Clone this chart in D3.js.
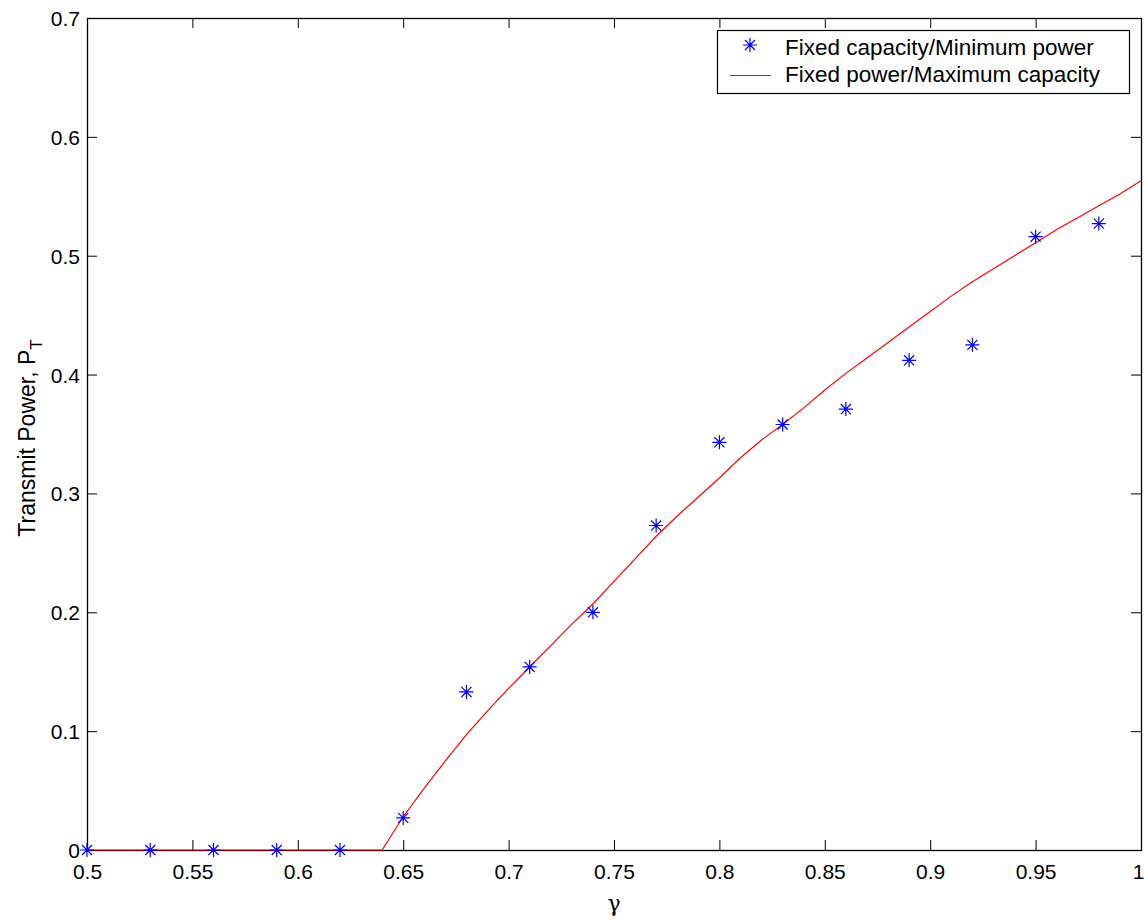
<!DOCTYPE html>
<html>
<head>
<meta charset="utf-8">
<script src="https://cdn.jsdelivr.net/npm/d3@7"></script>
<style>
  html, body { margin: 0; padding: 0; background: #fff; }
  svg { display: block; font-family: "Liberation Sans", Arial, Helvetica, sans-serif; }
</style>
</head>
<body>
<svg id="chart" width="1144" height="920"></svg>
<script>
// Minimum-power solution for a fixed capacity target (asterisks)
const gammaPoints = [0.50, 0.53, 0.56, 0.59, 0.62, 0.65, 0.68, 0.71, 0.74, 0.77, 0.80, 0.83, 0.86, 0.89, 0.92, 0.95, 0.98];
const minPower    = [0, 0, 0, 0, 0, 0.027, 0.133, 0.154, 0.200, 0.273, 0.343, 0.358, 0.371, 0.412, 0.425, 0.516, 0.527];

// Maximum-capacity solution for a fixed power budget (red curve)
const gammaCurve = [0.50, 0.64, 0.65, 0.66, 0.67, 0.68, 0.69, 0.70, 0.71, 0.72, 0.73, 0.74, 0.75, 0.76, 0.77, 0.78, 0.79, 0.80, 0.81, 0.82, 0.83, 0.84, 0.85, 0.86, 0.87, 0.88, 0.89, 0.90, 0.91, 0.92, 0.93, 0.94, 0.95, 0.96, 0.97, 0.98, 0.99, 1.00];
const fixedPower = [0, 0, 0.028, 0.052, 0.075, 0.097, 0.117, 0.136, 0.154, 0.172, 0.190, 0.207, 0.226, 0.245, 0.264, 0.281, 0.297, 0.313, 0.330, 0.345, 0.358, 0.372, 0.387, 0.401, 0.414, 0.427, 0.440, 0.453, 0.466, 0.478, 0.489, 0.500, 0.511, 0.522, 0.532, 0.542, 0.552, 0.563];

const xTicks = [0.5, 0.55, 0.6, 0.65, 0.7, 0.75, 0.8, 0.85, 0.9, 0.95, 1];
const xTickLabels = ["0.5", "0.55", "0.6", "0.65", "0.7", "0.75", "0.8", "0.85", "0.9", "0.95", "1"];
const yTicks = [0, 0.1, 0.2, 0.3, 0.4, 0.5, 0.6, 0.7];
const yTickLabels = ["0", "0.1", "0.2", "0.3", "0.4", "0.5", "0.6", "0.7"];

const legendLabels = ["Fixed capacity/Minimum power", "Fixed power/Maximum capacity"];

const margin = { left: 87, top: 18, right: 1141, bottom: 850 };
const svg = d3.select("#chart");

const x = d3.scaleLinear().domain([0.5, 1]).range([margin.left, margin.right]);
const y = d3.scaleLinear().domain([0, 0.7]).range([margin.bottom, margin.top]);

const tickFont = 21;
const tickLen = 10;

// Axes with inward ticks on all four sides
const bottomAxis = d3.axisBottom(x).tickValues(xTicks).tickSize(-tickLen).tickPadding(14)
  .tickFormat((d, i) => xTickLabels[i]);
const topAxis = d3.axisTop(x).tickValues(xTicks).tickSize(-tickLen).tickFormat("");
const leftAxis = d3.axisLeft(y).tickValues(yTicks).tickSize(-tickLen).tickPadding(7)
  .tickFormat((d, i) => yTickLabels[i]);
const rightAxis = d3.axisRight(y).tickValues(yTicks).tickSize(-tickLen).tickFormat("");

function styleAxis(g) {
  g.select(".domain").remove();
  g.selectAll(".tick line").attr("stroke", "#000").attr("stroke-width", 1);
  g.selectAll(".tick text").attr("fill", "#000").style("font-size", tickFont + "px")
    .style("font-family", "'Liberation Sans', Arial, sans-serif");
}

const gx = svg.append("g").attr("transform", `translate(0,${margin.bottom})`).call(bottomAxis).call(styleAxis);
// the last label sits at the right edge of the page
gx.selectAll(".tick text").filter(d => d === 1).attr("text-anchor", "end").attr("dx", 3);
svg.append("g").attr("transform", `translate(0,${margin.top})`).call(topAxis).call(styleAxis);
svg.append("g").attr("transform", `translate(${margin.left},0)`).call(leftAxis).call(styleAxis)
  .selectAll(".tick text").attr("dy", "0.36em");
svg.append("g").attr("transform", `translate(${margin.right},0)`).call(rightAxis).call(styleAxis);

// Axes box
svg.append("rect")
  .attr("x", margin.left + 0.5).attr("y", margin.top + 0.5)
  .attr("width", margin.right - margin.left).attr("height", margin.bottom - margin.top)
  .attr("fill", "none").attr("stroke", "#000").attr("stroke-width", 1.3);

// Red curve
const line = d3.line().x((d, i) => x(gammaCurve[i])).y(d => y(d));
svg.append("path")
  .datum(fixedPower)
  .attr("d", line)
  .attr("fill", "none")
  .attr("stroke", "#ff0000")
  .attr("stroke-width", 1.2);

// Asterisk marker: plus and cross overlaid
function asterisk(g, cx, cy, r) {
  const d = r * 0.72;
  const p = d3.path();
  p.moveTo(cx - r, cy); p.lineTo(cx + r, cy);
  p.moveTo(cx, cy - r); p.lineTo(cx, cy + r);
  p.moveTo(cx - d, cy - d); p.lineTo(cx + d, cy + d);
  p.moveTo(cx - d, cy + d); p.lineTo(cx + d, cy - d);
  g.append("path").attr("d", p.toString())
    .attr("stroke", "#0000ff").attr("stroke-width", 1.2).attr("fill", "none");
}

const pts = svg.append("g");
minPower.forEach((v, i) => asterisk(pts, x(gammaPoints[i]), y(v), 7));

// Axis titles
svg.append("text")
  .attr("x", 614).attr("y", 911)
  .attr("text-anchor", "middle")
  .style("font-size", "22px")
  .style("font-family", "'DejaVu Serif', 'Liberation Serif', serif")
  .text("γ");

const yTitle = svg.append("text")
  .attr("transform", `translate(35,438) rotate(-90)`)
  .attr("text-anchor", "middle")
  .style("font-size", "23px");
yTitle.append("tspan").text("Transmit Power, P");
yTitle.append("tspan").attr("dy", 7).style("font-size", "17px").text("T");

// Legend
const legend = svg.append("g");
legend.append("rect")
  .attr("x", 717.5).attr("y", 30.5).attr("width", 412).attr("height", 63)
  .attr("fill", "#fff").attr("stroke", "#000").attr("stroke-width", 1.2);
asterisk(legend, 750, 45, 7);
legend.append("line")
  .attr("x1", 730).attr("x2", 771).attr("y1", 75.5).attr("y2", 75.5)
  .attr("stroke", "#ff0000").attr("stroke-width", 1.2);
legend.selectAll("text.lbl")
  .data(legendLabels)
  .join("text")
  .attr("class", "lbl")
  .attr("x", 785)
  .attr("y", (d, i) => 55 + i * 27)
  .style("font-size", "22.5px")
  .text(d => d);
</script>
</body>
</html>
